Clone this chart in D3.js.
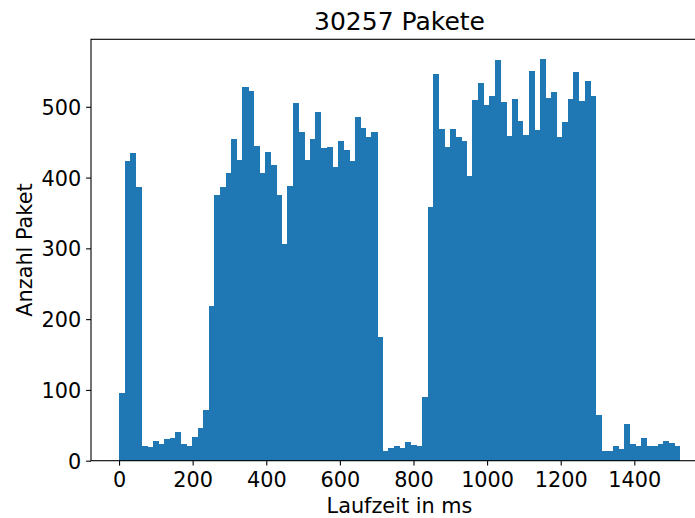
<!DOCTYPE html>
<html>
<head>
<meta charset="utf-8">
<script src="https://cdn.jsdelivr.net/npm/d3@7"></script>
<style>
  html, body { margin: 0; padding: 0; background: #fff; }
  svg { display: block; }
  text { font-family: "DejaVu Sans", sans-serif; fill: #000; }
</style>
</head>
<body>
<svg id="chart" width="695" height="518"></svg>
<script>
// ---- data ----
const titleText = "30257 Pakete";
const xLabel = "Laufzeit in ms";
const yLabel = "Anzahl Paket";
const binStart = 0;      // ms
const binWidth = 15.24;  // ms per bin
const counts = [
  96, 423, 435, 387, 21, 19, 28, 24, 31, 32,
  41, 24, 21, 33, 46, 72, 219, 375, 386, 406,
  454, 425, 528, 522, 445, 406, 436, 418, 375, 306,
  388, 505, 464, 425, 454, 493, 442, 443, 415, 452,
  439, 423, 486, 470, 457, 464, 175, 14, 18, 21,
  18, 26, 22, 21, 90, 358, 546, 469, 443, 468,
  457, 452, 402, 510, 534, 502, 515, 566, 507, 459,
  511, 480, 460, 550, 467, 567, 512, 521, 457, 479,
  511, 549, 508, 537, 515, 65, 14, 14, 21, 17,
  52, 24, 21, 32, 21, 21, 24, 28, 25, 21
];
const xTicks = [0, 200, 400, 600, 800, 1000, 1200, 1400];
const yTicks = [0, 100, 200, 300, 400, 500];

// ---- layout ----
const axLeft = 91, axRight = 708, axTop = 39.3, axBottom = 460.7;
const barColor = "#1f77b4";
const fs = 20.8, titleFs = 25;

const bins = counts.map((c, i) => ({ x0: binStart + i * binWidth, x1: binStart + (i + 1) * binWidth, n: c }));
const xMin = bins[0].x0, xMax = bins[bins.length - 1].x1;
const xPad = (xMax - xMin) * 0.05;

const x = d3.scaleLinear().domain([xMin - xPad, xMax + xPad]).range([axLeft, axRight]);
const y = d3.scaleLinear().domain([0, d3.max(counts) * 1.05]).range([axBottom, axTop]);

const svg = d3.select("#chart");

svg.append("g").attr("shape-rendering", "crispEdges")
  .selectAll("rect").data(bins).join("rect")
  .attr("x", d => x(d.x0))
  .attr("width", d => x(d.x1) - x(d.x0) + 0.5)
  .attr("y", d => y(d.n))
  .attr("height", d => y(0) - y(d.n))
  .attr("fill", barColor);

// axes
const xAxis = d3.axisBottom(x).tickValues(xTicks).tickSize(4.9).tickPadding(4.9).tickFormat(d3.format("d"));
const yAxis = d3.axisLeft(y).tickValues(yTicks).tickSize(4.9).tickPadding(4.9).tickFormat(d3.format("d"));

const gx = svg.append("g").attr("transform", `translate(0,${axBottom})`).call(xAxis);
const gy = svg.append("g").attr("transform", `translate(${axLeft},0)`).call(yAxis);
[gx, gy].forEach(g => {
  g.select(".domain").remove();
  g.selectAll(".tick line").attr("stroke", "#000").attr("stroke-width", 1.1);
  g.selectAll(".tick text").attr("font-size", fs).attr("font-family", "DejaVu Sans").attr("fill", "#000");
});
gx.selectAll(".tick text").attr("dy", null).attr("y", 26.6);
gy.selectAll(".tick text").attr("dy", "0.36em");

// frame (spines)
svg.append("rect")
  .attr("x", axLeft).attr("y", axTop)
  .attr("width", axRight - axLeft).attr("height", axBottom - axTop)
  .attr("fill", "none").attr("stroke", "#000").attr("stroke-width", 1.1);

// title and labels
svg.append("text").attr("x", (axLeft + axRight) / 2).attr("y", 29.5)
  .attr("text-anchor", "middle").attr("font-size", titleFs).text(titleText);
svg.append("text").attr("x", (axLeft + axRight) / 2).attr("y", 513)
  .attr("text-anchor", "middle").attr("font-size", fs).text(xLabel);
svg.append("text").attr("transform", `translate(32,${(axTop + axBottom) / 2}) rotate(-90)`)
  .attr("text-anchor", "middle").attr("font-size", fs).text(yLabel);
</script>
</body>
</html>
